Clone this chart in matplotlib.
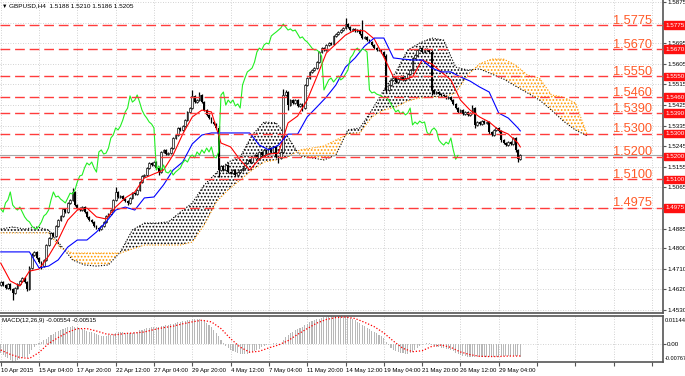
import matplotlib
matplotlib.use("Agg")
import matplotlib.pyplot as plt
import matplotlib.transforms as mtransforms
import numpy as np

plt.rcParams['font.family'] = ['Liberation Sans', 'DejaVu Sans']
plt.rcParams['hatch.linewidth'] = 0.8

# GBPUSD H4 closes, bar 0 = 10 Apr 2015
close = [
    1.4651, 1.4638, 1.4625, 1.4643, 1.4621, 1.4603, 1.4625, 1.4643, 1.4656, 1.4669,
    1.4651, 1.4621, 1.4713, 1.4769, 1.4783, 1.4756, 1.4739, 1.4721, 1.4748, 1.4813,
    1.4844, 1.4866, 1.4853, 1.4896, 1.4922, 1.4940, 1.4971, 1.4957, 1.4997, 1.5010,
    1.5045, 1.4988, 1.4975, 1.4966, 1.4979, 1.4957, 1.4936, 1.4922, 1.4914, 1.4896,
    1.4887, 1.4883, 1.4896, 1.4914, 1.4940, 1.4949, 1.4966, 1.5010, 1.5045, 1.5023,
    1.5027, 1.5014, 1.5006, 1.4997, 1.5019, 1.5040, 1.5036, 1.5054, 1.5089, 1.5115,
    1.5119, 1.5150, 1.5172, 1.5163, 1.5176, 1.5150, 1.5132, 1.5220, 1.5229, 1.5211,
    1.5215, 1.5237, 1.5281, 1.5294, 1.5325, 1.5316, 1.5333, 1.5360, 1.5395, 1.5412,
    1.5465, 1.5438, 1.5447, 1.5469, 1.5438, 1.5403, 1.5382, 1.5368, 1.5351, 1.5342,
    1.5325, 1.5141, 1.5159, 1.5141, 1.5163, 1.5132, 1.5128, 1.5141, 1.5119, 1.5132,
    1.5141, 1.5150, 1.5172, 1.5185, 1.5176, 1.5198, 1.5207, 1.5194, 1.5220, 1.5207,
    1.5229, 1.5215, 1.5237, 1.5220, 1.5242, 1.5198, 1.5194, 1.5220, 1.5469, 1.5482,
    1.5425, 1.5447, 1.5434, 1.5447, 1.5421, 1.5430, 1.5412, 1.5513, 1.5543, 1.5570,
    1.5578, 1.5587, 1.5613, 1.5657, 1.5674, 1.5666, 1.5688, 1.5696, 1.5692, 1.5727,
    1.5736, 1.5744, 1.5753, 1.5762, 1.5779, 1.5766, 1.5753, 1.5758, 1.5749, 1.5753,
    1.5736, 1.5718, 1.5723, 1.5709, 1.5701, 1.5688, 1.5674, 1.5666, 1.5666, 1.5657,
    1.5639, 1.5491, 1.5513, 1.5535, 1.5543, 1.5526, 1.5539, 1.5552, 1.5535, 1.5543,
    1.5561, 1.5578, 1.5631, 1.5644, 1.5666, 1.5674, 1.5657, 1.5670, 1.5666, 1.5657,
    1.5491, 1.5478, 1.5482, 1.5473, 1.5469, 1.5465, 1.5456, 1.5460, 1.5447, 1.5430,
    1.5412, 1.5395, 1.5403, 1.5386, 1.5395, 1.5382, 1.5390, 1.5412, 1.5338, 1.5351,
    1.5342, 1.5355, 1.5347, 1.5351, 1.5307, 1.5294, 1.5316, 1.5325, 1.5312, 1.5272,
    1.5259, 1.5250, 1.5263, 1.5255, 1.5281, 1.5229, 1.5188, 1.5205,
]
first_open = 1.4640

# wick lengths above / below the body, in pips
upper_wick = [
    5, 4, 6, 5, 4, 5, 6, 4, 5, 6,   4, 5, 10, 8, 5, 4, 6, 4, 5, 6,
    5, 6, 4, 5, 6, 5, 6, 4, 5, 6,   17, 5, 4, 6, 5, 4, 5, 4, 6, 5,
    4, 5, 6, 4, 5, 6, 5, 6, 22, 5,  6, 4, 5, 5, 6, 4, 5, 6, 5, 4,
    6, 5, 4, 6, 5, 4, 5, 6, 5, 4,   6, 5, 6, 4, 5, 6, 5, 6, 5, 6,
    26, 6, 5, 15, 5, 4, 6, 5, 4, 5, 6, 8, 6, 5, 6, 4, 5, 6, 4, 5,
    6, 5, 4, 6, 5, 4, 6, 5, 6, 4,   5, 6, 4, 5, 6, 5, 4, 6, 25, 10,
    6, 5, 6, 4, 5, 6, 5, 6, 5, 6,   5, 6, 6, 5, 6, 4, 5, 6, 5, 6,
    5, 6, 5, 6, 27, 6, 5, 6, 4, 5,  6, 61, 5, 6, 4, 5, 6, 5, 4, 6,
    5, 8, 6, 5, 6, 4, 5, 6, 5, 6,   5, 6, 6, 5, 6, 5, 6, 4, 5, 6,
    8, 5, 6, 4, 5, 6, 5, 4, 6, 5,   4, 6, 5, 6, 4, 5, 6, 13, 6, 5,
    6, 5, 4, 6, 5, 4, 6, 5, 6, 5,   4, 6, 5, 4, 6, 6, 5, 5,
]
lower_wick = [
    5, 6, 4, 5, 6, 30, 5, 4, 6, 5,  6, 10, 5, 4, 6, 5, 6, 12, 5, 4,
    6, 5, 4, 6, 5, 4, 6, 5, 4, 6,   5, 6, 5, 4, 6, 5, 4, 6, 5, 4,
    6, 8, 5, 4, 6, 5, 4, 6, 5, 6,   4, 5, 6, 10, 5, 4, 6, 5, 4, 6,
    5, 4, 6, 5, 4, 6, 13, 5, 4, 6,  5, 4, 6, 5, 4, 6, 5, 4, 6, 5,
    4, 6, 5, 4, 6, 5, 4, 6, 5, 4,   6, 31, 5, 6, 4, 5, 6, 5, 4, 6,
    5, 4, 6, 5, 4, 6, 5, 4, 6, 5,   4, 6, 5, 4, 6, 5, 22, 6, 5, 4,
    20, 6, 5, 4, 6, 5, 12, 6, 5, 4, 6, 5, 4, 6, 5, 4, 6, 5, 4, 6,
    5, 4, 6, 5, 4, 6, 5, 4, 6, 5,   4, 6, 5, 4, 6, 5, 4, 6, 5, 4,
    6, 15, 5, 4, 6, 5, 4, 6, 5, 4,  6, 5, 4, 6, 5, 4, 6, 5, 4, 6,
    22, 5, 4, 6, 5, 4, 6, 5, 4, 6,  5, 4, 6, 5, 4, 6, 5, 4, 12, 5,
    4, 6, 5, 4, 10, 5, 4, 6, 5, 10, 4, 6, 5, 4, 6, 8, 12, 2,
]

# Tenkan-sen (red) and Kijun-sen (blue), read every 4th bar
line_bars = list(range(0, 217, 4)) + [217]
tenkan = [
    1.4734, 1.4656, 1.4634, 1.4699, 1.4708, 1.4765, 1.4835, 1.4922, 1.4966, 1.4975,
    1.4936, 1.4927, 1.4979, 1.5019, 1.5045, 1.5106, 1.5124, 1.5141, 1.5207, 1.5298,
    1.5373, 1.5403, 1.5395, 1.5259, 1.5242, 1.5185, 1.5141, 1.5189, 1.5211, 1.5215,
    1.5347, 1.5377, 1.5447, 1.5548, 1.5653, 1.5692, 1.5731, 1.5753, 1.5749, 1.5714,
    1.5635, 1.5548, 1.5535, 1.5548, 1.5622, 1.5605, 1.5570, 1.5535, 1.5447, 1.5403,
    1.5373, 1.5351, 1.5316, 1.5298, 1.5259, 1.5242,
]
kijun = [
    1.4783, 1.4783, 1.4783, 1.4783, 1.4713, 1.4721, 1.4748, 1.4804, 1.4835, 1.4835,
    1.4870, 1.4914, 1.4966, 1.4979, 1.4966, 1.5019, 1.5023, 1.5076, 1.5141, 1.5176,
    1.5255, 1.5294, 1.5303, 1.5303, 1.5303, 1.5303, 1.5303, 1.5250, 1.5229, 1.5250,
    1.5298, 1.5298, 1.5373, 1.5416, 1.5460, 1.5513, 1.5591, 1.5631, 1.5683, 1.5718,
    1.5718, 1.5631, 1.5626, 1.5622, 1.5622, 1.5587, 1.5570, 1.5570, 1.5548, 1.5530,
    1.5504, 1.5482, 1.5390, 1.5368, 1.5325, 1.5312,
]

# Senkou span A (black dotted) and B (orange dotted), every 5th bar
cloud_bars = list(range(0, 246, 5))
span_a = [
    1.4883, 1.4892, 1.4883, 1.4892, 1.4879, 1.4813, 1.4748, 1.4726, 1.4721, 1.4726,
    1.4783, 1.4879, 1.4909, 1.4909, 1.4914, 1.4957, 1.4997, 1.5076, 1.5128, 1.5176,
    1.5198, 1.5294, 1.5351, 1.5347, 1.5285, 1.5202, 1.5194, 1.5185, 1.5207, 1.5316,
    1.5325, 1.5403, 1.5491, 1.5570, 1.5666, 1.5696, 1.5718, 1.5709, 1.5591, 1.5578,
    1.5583, 1.5561, 1.5539, 1.5508, 1.5478, 1.5447, 1.5403, 1.5355, 1.5316, 1.5290,
]
span_b = [
    1.4866, 1.4866, 1.4866, 1.4866, 1.4866, 1.4800, 1.4778, 1.4778, 1.4778, 1.4778,
    1.4778, 1.4796, 1.4813, 1.4813, 1.4813, 1.4813, 1.4826, 1.4901, 1.5001, 1.5054,
    1.5097, 1.5141, 1.5176, 1.5185, 1.5198, 1.5229, 1.5237, 1.5246, 1.5272, 1.5298,
    1.5303, 1.5373, 1.5403, 1.5416, 1.5443, 1.5456, 1.5460, 1.5460, 1.5478, 1.5556,
    1.5605, 1.5626, 1.5626, 1.5600, 1.5556, 1.5543, 1.5469, 1.5460, 1.5434, 1.5294,
]

# MACD(12,26,9) main histogram per bar, in units of 0.0001
macd_main = [
    -40, -48, -55, -62, -68, -77, -74, -70, -66, -62,
    -58, -60, -42, -26, -14, -6, 2, 8, 14, 20,
    28, 34, 40, 46, 52, 56, 60, 64, 68, 70,
    74, 70, 68, 65, 62, 58, 54, 50, 46, 42,
    38, 35, 32, 31, 32, 34, 37, 41, 45, 47,
    47, 46, 44, 42, 42, 44, 47, 50, 55, 58,
    60, 63, 66, 68, 70, 69, 68, 71, 74, 76,
    78, 80, 83, 86, 89, 91, 93, 95, 97, 99,
    101, 102, 101, 100, 98, 94, 87, 78, 67, 56,
    45, 30, 15, 2, -10, -20, -26, -32, -36, -40,
    -42, -43, -43, -42, -41, -37, -33, -28, -22, -16,
    -10, -5, -2, 0, 2, 2, 0, -2, 15, 28,
    36, 44, 50, 56, 60, 64, 70, 76, 82, 88,
    92, 96, 100, 104, 107, 110, 112, 113, 114, 114,
    114, 113, 113, 112, 111, 110, 106, 101, 96, 90,
    84, 78, 72, 66, 60, 54, 48, 42, 36, 30,
    24, 5, -8, -18, -26, -32, -36, -39, -41, -42,
    -42, -40, -34, -26, -18, -10, -4, 0, 2, 2,
    -5, -10, -13, -16, -18, -20, -22, -24, -28, -33,
    -38, -42, -46, -50, -52, -54, -55, -56, -56, -57,
    -57, -57, -57, -56, -56, -55, -55, -54, -54, -53,
    -52, -51, -50, -50, -50, -51, -53, -55,
]
# signal line (red dotted), every 4th bar, units of 0.0001
macd_signal = [
    -27, -45, -58, -62, -37, 0, 25, 47, 62, 62,
    52, 40, 36, 42, 44, 48, 58, 66, 72, 82,
    90, 97, 90, 62, 20, -15, -36, -32, -18, -6,
    12, 38, 62, 85, 100, 108, 110, 104, 88, 70,
    44, 10, -20, -34, -30, -12, -6, -16, -35, -46,
    -53, -54, -54, -52, -52, -51.5,
]

levels = [1.5775, 1.5670, 1.5550, 1.5460, 1.5390, 1.5300, 1.5200, 1.5100, 1.4975]
price_ticks = [1.5875, 1.5785, 1.5695, 1.5605, 1.5515, 1.5425, 1.5335, 1.5245,
               1.5155, 1.5065, 1.4975, 1.4885, 1.4800, 1.4710, 1.4620, 1.4530]
price_labels = ['1.5875', '', '1.5695', '1.5605', '1.5515', '1.5425', '1.5335', '1.5245',
                '1.5155', '1.5065', '', '1.4885', '1.4800', '1.4710', '1.4620', '1.4530']
time_labels = ['10 Apr 2015', '15 Apr 04:00', '17 Apr 20:00', '22 Apr 12:00', '27 Apr 04:00',
               '29 Apr 20:00', '4 May 12:00', '7 May 04:00', '11 May 20:00', '14 May 12:00',
               '19 May 04:00', '21 May 20:00', '26 May 12:00', '29 May 04:00']

W, H = 685, 376
fig = plt.figure(figsize=(W / 100, H / 100), dpi=100)
ax = fig.add_axes([0, 1 - 313 / H, 663 / W, 313 / H])
axm = fig.add_axes([0, 1 - 362 / H, 663 / W, 46 / H])

x = np.arange(len(close))
c = np.array(close)
o = np.r_[first_open, c[:-1]]
hi = np.maximum(o, c) + np.array(upper_wick) * 1e-4
lo = np.minimum(o, c) - np.array(lower_wick) * 1e-4

# cloud
cb = np.array(cloud_bars)
sa = np.array(span_a)
sb = np.array(span_b)
ax.fill_between(cb, sa, sb, where=sa >= sb, interpolate=True, facecolor='none',
                edgecolor='black', hatch='.....', linewidth=0, zorder=1)
ax.fill_between(cb, sa, sb, where=sa < sb, interpolate=True, facecolor='none',
                edgecolor='#ff9a00', hatch='.....', linewidth=0, zorder=1)
ax.plot(cb, sa, color='black', ls=(0, (1, 1.5)), lw=0.8, zorder=2)
ax.plot(cb, sb, color='#ff9a00', ls=(0, (1, 1.5)), lw=0.8, zorder=2)

# candles
ax.vlines(x, lo, hi, color='black', lw=0.9, zorder=3)
up = c >= o
ax.bar(x[up], (c - o)[up], bottom=o[up], width=0.75, facecolor='#f0f0f0',
       edgecolor='black', lw=0.45, zorder=3)
ax.bar(x[~up], (o - c)[~up], bottom=c[~up], width=0.75, color='black', lw=0, zorder=3)

# ichimoku lines
ax.plot(line_bars, tenkan, color='red', lw=0.8, zorder=4)
ax.plot(line_bars, kijun, color='blue', lw=0.8, zorder=4)
ax.plot(x[26:] - 26, c[26:], color='#22ee22', lw=0.8, zorder=4)

# bid line
ax.axhline(close[-1], color='#a8a8a8', lw=0.8, zorder=2)

# horizontal levels
trans = mtransforms.blended_transform_factory(ax.transAxes, ax.transData)
lab_trans = mtransforms.offset_copy(trans, fig=fig, x=0, y=1.5, units='dots')
box_trans = mtransforms.offset_copy(trans, fig=fig, x=2, y=0, units='dots')
for lvl in levels:
    ax.axhline(lvl, color='#ff3c3c', lw=1.0, ls=(0, (7, 3.5)), zorder=5)
    ax.text(652 / 663, lvl, f'{lvl:.4f}', transform=lab_trans, ha='right', va='baseline',
            fontsize=9.2, color='#ff5a28', zorder=6)
    ax.text(1.0, lvl, f'{lvl:.4f}', transform=box_trans, ha='left', va='center',
            fontsize=4.5, color='white', zorder=10, clip_on=False,
            bbox=dict(boxstyle='square,pad=0.2', fc='#ff1010', ec='#ff1010'))

xmin, xmax = -0.3, 276.6
time_ticks = list(range(0, 277, 16))

ax.set_xlim(xmin, xmax)
ax.set_ylim(1.45159, 1.58843)
ax.set_xticks(time_ticks)
ax.tick_params(axis='x', length=0, labelbottom=False)
ax.yaxis.tick_right()
ax.set_yticks(price_ticks)
ax.set_yticklabels(price_labels)
ax.tick_params(axis='y', labelsize=4.5, length=2, pad=1, color='#555555')
ax.grid(True, color='#c4c4c4', ls=(0, (1, 2)), lw=0.6)
ax.set_axisbelow(True)
for s in ['left', 'top']:
    ax.spines[s].set_visible(False)
for s in ['right', 'bottom']:
    ax.spines[s].set_color('#555555')
    ax.spines[s].set_linewidth(1.2)

# MACD panel
axm.bar(x, np.array(macd_main) * 1e-4, width=0.45, color='#b8b8b8', linewidth=0, zorder=2)
axm.plot(line_bars, np.array(macd_signal) * 1e-4, color='red', ls=(0, (1, 1.5)),
         lw=0.9, zorder=3)
axm.set_xlim(xmin, xmax)
axm.set_ylim(-0.00767, 0.01144)
axm.set_xticks(time_ticks)
axm.set_xticklabels(time_labels + [''] * (len(time_ticks) - len(time_labels)),
                    ha='left', fontsize=4.3)
axm.tick_params(axis='x', length=3, pad=1, color='#555555')
axm.yaxis.tick_right()
axm.set_yticks([0])
axm.set_yticklabels(['0.00'])
axm.tick_params(axis='y', labelsize=4.5, length=2, pad=1, color='#555555')
axm.grid(True, color='#c4c4c4', ls=(0, (1, 2)), lw=0.6)
axm.set_axisbelow(True)
axm.spines['left'].set_visible(False)
for s in ['right', 'bottom', 'top']:
    axm.spines[s].set_color('#555555')
    axm.spines[s].set_linewidth(1.2)
axm.text(1.0 + 1.5 / 663, 1 - 5 / 46, '0.01144', transform=axm.transAxes, fontsize=4.2,
         va='center', ha='left')
axm.text(1.0 + 1.5 / 663, 4 / 46, '-0.00767', transform=axm.transAxes, fontsize=4.0,
         va='center', ha='left')
axm.text(2 / 663, 1 - 2 / 46, 'MACD(12,26,9) -0.00554 -0.00515', transform=axm.transAxes,
         fontsize=4.4, va='top', ha='left')

fig.text(2 / W, 1 - 6 / H, '\u25bc', fontsize=4, va='center', ha='left')
fig.text(9 / W, 1 - 6 / H, 'GBPUSD,H4  1.5188 1.5210 1.5186 1.5205', fontsize=4.6,
         va='center', ha='left')

fig.savefig('out.png', dpi=100, facecolor='white')
